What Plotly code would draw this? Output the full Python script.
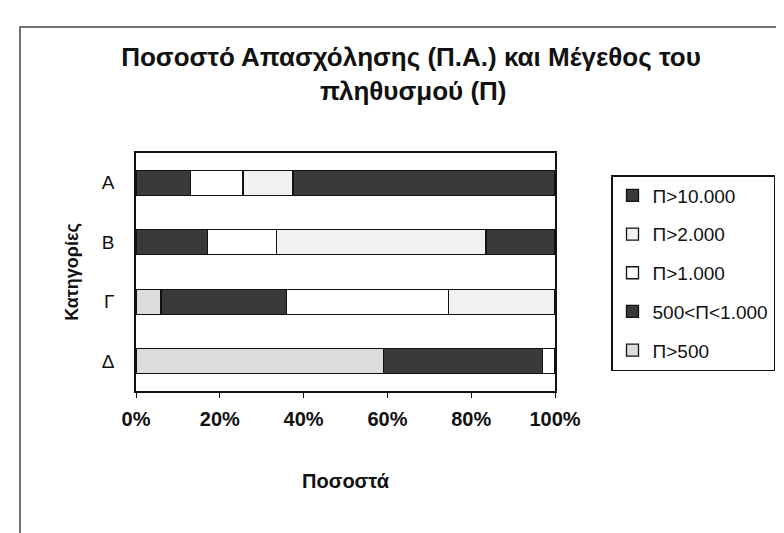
import plotly.graph_objects as go

categories = ["Α", "Β", "Γ", "Δ"]
series_names = ["Π>500", "500<Π<1.000", "Π>1.000", "Π>2.000", "Π>10.000"]
p_over_500 = [0, 0, 6, 59]
p_500_1000 = [13, 17, 30, 38]
p_over_1000 = [12.5, 16.5, 38.5, 3]
p_over_2000 = [12, 50, 25.5, 0]
p_over_10000 = [62.5, 16.5, 0, 0]
tick_vals = [0, 20, 40, 60, 80, 100]
tick_text = ["0%", "20%", "40%", "60%", "80%", "100%"]

series_values = [p_over_500, p_500_1000, p_over_1000, p_over_2000, p_over_10000]
colors = ["#dcdcdc", "#3a3a3a", "#ffffff", "#f1f1f1", "#3a3a3a"]

FONT = "Liberation Sans, Arial, sans-serif"

fig = go.Figure()
n = len(series_names)
for i, (name, vals, col) in enumerate(zip(series_names, series_values, colors)):
    fig.add_trace(go.Bar(
        y=categories, x=vals, name=name, orientation="h",
        legendgroup=name, legendrank=n - i,
        marker=dict(color=col, line=dict(color="#111111", width=1.3)),
    ))

W, H = 784, 533
L, R, T, B = 128, 237, 145, 150
pw, ph = W - L - R, H - T - B

def px(x):
    return (x - L) / pw

def py(y):
    return (H - B - y) / ph

fig.update_layout(
    width=W, height=H, autosize=False,
    margin=dict(l=L, r=R, t=T, b=B),
    paper_bgcolor="white", plot_bgcolor="white",
    barmode="stack", bargap=0.58,
    font=dict(family=FONT, color="#111111"),
    title=dict(text="<b>Ποσοστό Απασχόλησης (Π.Α.) και Μέγεθος του</b>",
               font=dict(size=26, family=FONT, color="#111111"),
               x=403 / W, xanchor="center", xref="container",
               y=1 - 49 / H, yanchor="middle", yref="container"),
    annotations=[dict(text="<b>πληθυσμού (Π)</b>", xref="paper", yref="paper",
                      x=px(405), y=py(83), xanchor="center", yanchor="middle",
                      showarrow=False, font=dict(size=26, family=FONT, color="#111111"))],
    legend=dict(x=px(603), y=py(167), xanchor="left", yanchor="top",
                traceorder="grouped", tracegroupgap=11,
                bordercolor="#111111", borderwidth=1.5, bgcolor="white",
                font=dict(size=19, family=FONT, color="#111111")),
    showlegend=True,
    shapes=[dict(type="rect", xref="paper", yref="paper",
                 x0=px(12), x1=px(800), y0=py(560), y1=py(19),
                 line=dict(color="#444444", width=1.5), fillcolor="rgba(0,0,0,0)",
                 layer="below")],
)

fig.update_xaxes(
    range=[0, 100], tickvals=tick_vals, ticktext=tick_text,
    showline=True, linecolor="#111111", linewidth=1.5, mirror=True,
    ticks="outside", ticklen=5, tickcolor="#111111", tickwidth=1.2,
    showgrid=False, zeroline=False,
    tickfont=dict(size=20, family=FONT, color="#111111", weight="bold"),
    ticklabelstandoff=4,
    title=dict(text="<b>Ποσοστά</b>", font=dict(size=20, family=FONT, color="#111111"),
               standoff=45),
)
fig.update_yaxes(
    categoryorder="array", categoryarray=categories, autorange="reversed",
    showline=True, linecolor="#111111", linewidth=1.5, mirror=True,
    ticks="", showgrid=False, zeroline=False,
    tickfont=dict(size=19, family=FONT, color="#111111"),
    ticklabelstandoff=16,
    title=dict(text="<b>Κατηγορίες</b>", font=dict(size=18, family=FONT, color="#111111"),
               standoff=18),
)

fig.write_html("out.html")
